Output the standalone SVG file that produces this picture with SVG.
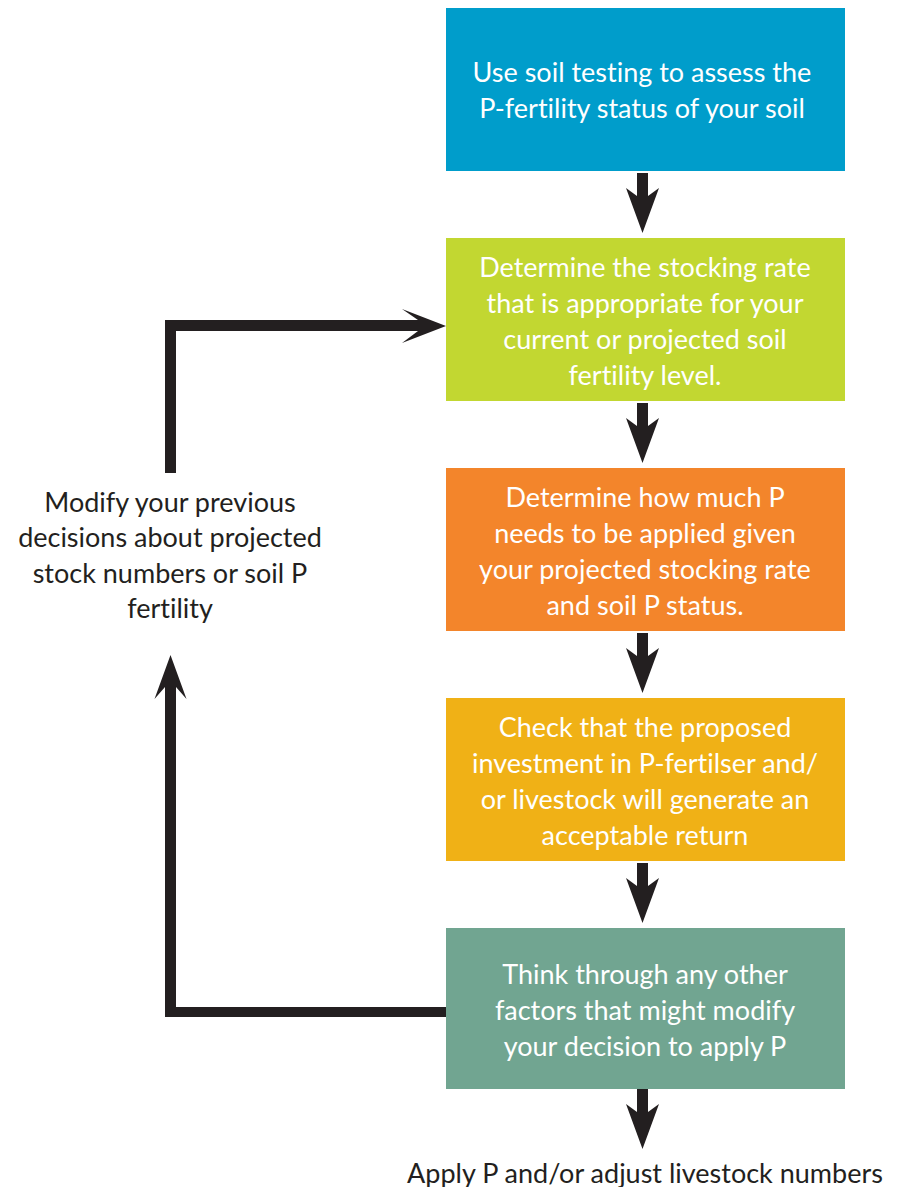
<svg xmlns="http://www.w3.org/2000/svg" width="903" height="1187" viewBox="0 0 903 1187">
<defs>
<style>
.box{stroke:none}
.wt{font-family:Lato,"Open Sans","Liberation Sans",sans-serif;font-size:27px;fill:#ffffff;text-anchor:middle;font-variant-ligatures:none}
.bt{font-family:Lato,"Open Sans","Liberation Sans",sans-serif;font-size:27px;fill:#231F20;text-anchor:middle;font-variant-ligatures:none}
.ar{fill:#231F20}
</style>
<path id="down" d="M-5.5,0 H5.5 V23 L16.5,15 L0,60 L-16.5,15 L-5.5,23 Z"/>
</defs>
<rect width="903" height="1187" fill="#ffffff"/>
<g id="connectors" class="ar">
<use href="#down" x="642.5" y="173"/>
<use href="#down" x="642.5" y="403"/>
<use href="#down" x="642.5" y="633"/>
<use href="#down" x="642.5" y="863"/>
<use href="#down" x="642.5" y="1089"/>
<path d="M165,473 V320 H418 L402,309 L446,326 L402,343 L418,331 H176 V473 Z"/>
<path d="M446,1007 H176 V687 L186.5,699 L170.5,655 L154.5,699 L165,687 V1017 H446 Z"/>
</g>
<g id="n1">
<rect class="box" x="446" y="8" width="399" height="163" fill="#009DCB"/>
<text class="wt" x="642" y="82">Use soil testing to assess the</text>
<text class="wt" x="642" y="118">P-fertility status of your soil</text>
</g>
<g id="n2">
<rect class="box" x="446" y="238" width="399" height="163" fill="#C2D731"/>
<text class="wt" x="645" y="277">Determine the stocking rate</text>
<text class="wt" x="645" y="313">that is appropriate for your</text>
<text class="wt" x="645" y="349">current or projected soil</text>
<text class="wt" x="645" y="385">fertility level.</text>
</g>
<g id="n3">
<rect class="box" x="446" y="468" width="399" height="163" fill="#F3852B"/>
<text class="wt" x="645" y="507">Determine how much P</text>
<text class="wt" x="645" y="543">needs to be applied given</text>
<text class="wt" x="645" y="579">your projected stocking rate</text>
<text class="wt" x="645" y="615">and soil P status.</text>
</g>
<g id="n4">
<rect class="box" x="446" y="698" width="399" height="163" fill="#F0B116"/>
<text class="wt" x="645" y="737">Check that the proposed</text>
<text class="wt" x="645" y="773">investment in P-fertilser and/</text>
<text class="wt" x="645" y="809">or livestock will generate an</text>
<text class="wt" x="645" y="845">acceptable return</text>
</g>
<g id="n5">
<rect class="box" x="446" y="928" width="399" height="161" fill="#71A591"/>
<text class="wt" x="645" y="984">Think through any other</text>
<text class="wt" x="645" y="1020">factors that might modify</text>
<text class="wt" x="645" y="1056">your decision to apply P</text>
</g>
<g id="n6">
<text class="bt" x="170" y="512">Modify your previous</text>
<text class="bt" x="170" y="547">decisions about projected</text>
<text class="bt" x="170" y="583">stock numbers or soil P</text>
<text class="bt" x="170" y="618">fertility</text>
</g>
<g id="n7">
<text class="bt" x="645" y="1183">Apply P and/or adjust livestock numbers</text>
</g>
</svg>
